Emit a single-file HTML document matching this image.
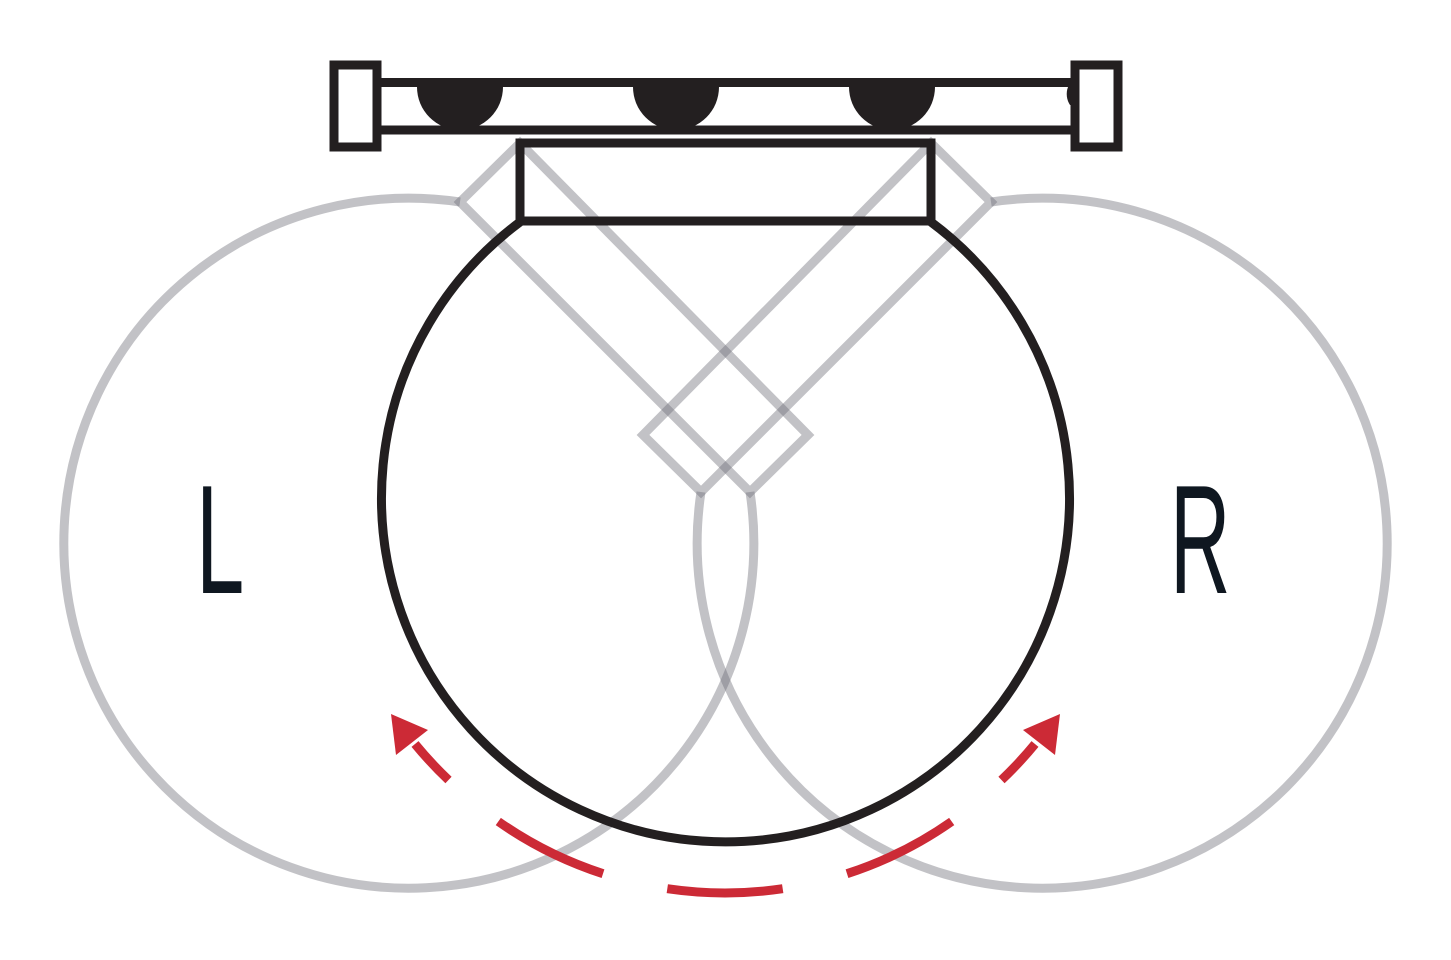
<!DOCTYPE html>
<html><head><meta charset="utf-8"><style>
html,body{margin:0;padding:0;background:#fff;}
svg{display:block;}
</style></head><body>
<svg width="1451" height="960" viewBox="0 0 1451 960" xmlns="http://www.w3.org/2000/svg">
<g fill="none" stroke="rgb(110,110,118)" stroke-opacity="0.42" stroke-width="9" stroke-linejoin="miter">
  <path d="M460,202 A345,345 0 1 0 750,492"/>
  <path d="M991,202 A345,345 0 1 1 701,492"/>
  <polygon points="520,143 808,435 750,492 460,202"/>
  <polygon points="931,143 643,435 701,492 991,202"/>
</g>
<g fill="none" stroke="#231f20" stroke-width="9">
  <path d="M520,222 A344,344 0 1 0 931,222"/>
  <rect x="520" y="143" width="411" height="78"/>
</g>
<g fill="#231f20">
  <path d="M417,87 L503,87 A43,43 0 0 1 460,130 A43,43 0 0 1 417,87 Z"/>
  <path d="M633,87 L719,87 A43,43 0 0 1 676,130 A43,43 0 0 1 633,87 Z"/>
  <path d="M849,87 L935,87 A43,43 0 0 1 892,130 A43,43 0 0 1 849,87 Z"/>
  <path d="M1068,87 L1074,87 L1074,105 L1070,105 A20,20 0 0 1 1068,87 Z"/>
</g>
<g fill="none" stroke="#231f20" stroke-width="9">
  <line x1="378" y1="82.5" x2="1074" y2="82.5"/>
  <line x1="378" y1="130" x2="1074" y2="130"/>
  <rect x="334" y="65" width="43" height="82" fill="#fff"/>
  <rect x="1075" y="65" width="43" height="82" fill="#fff"/>
</g>
<g fill="none" stroke="#cc2a36" stroke-width="9">
  <path d="M667.3,888.7 A395,395 0 0 0 782.7,888.7"/>
  <path d="M498.3,821.5 A395,395 0 0 0 603,873.7"/>
  <path d="M951.7,821.5 A395,395 0 0 1 847,873.7"/>
  <path d="M448.5,780 A395,395 0 0 1 415,744"/>
  <path d="M1001.5,780 A395,395 0 0 0 1035,744"/>
</g>
<g fill="#cc2a36">
  <polygon points="391,714 396,755 428,730"/>
  <polygon points="1060,714 1055,755 1023,730"/>
</g>
<g font-family="'Liberation Sans', sans-serif" font-size="155" fill="#0f1720">
  <text x="0" y="0" transform="translate(196,593) scale(0.56,1)">L</text>
  <text x="0" y="0" transform="translate(1170,593) scale(0.54,1)">R</text>
</g>
</svg>
</body></html>
